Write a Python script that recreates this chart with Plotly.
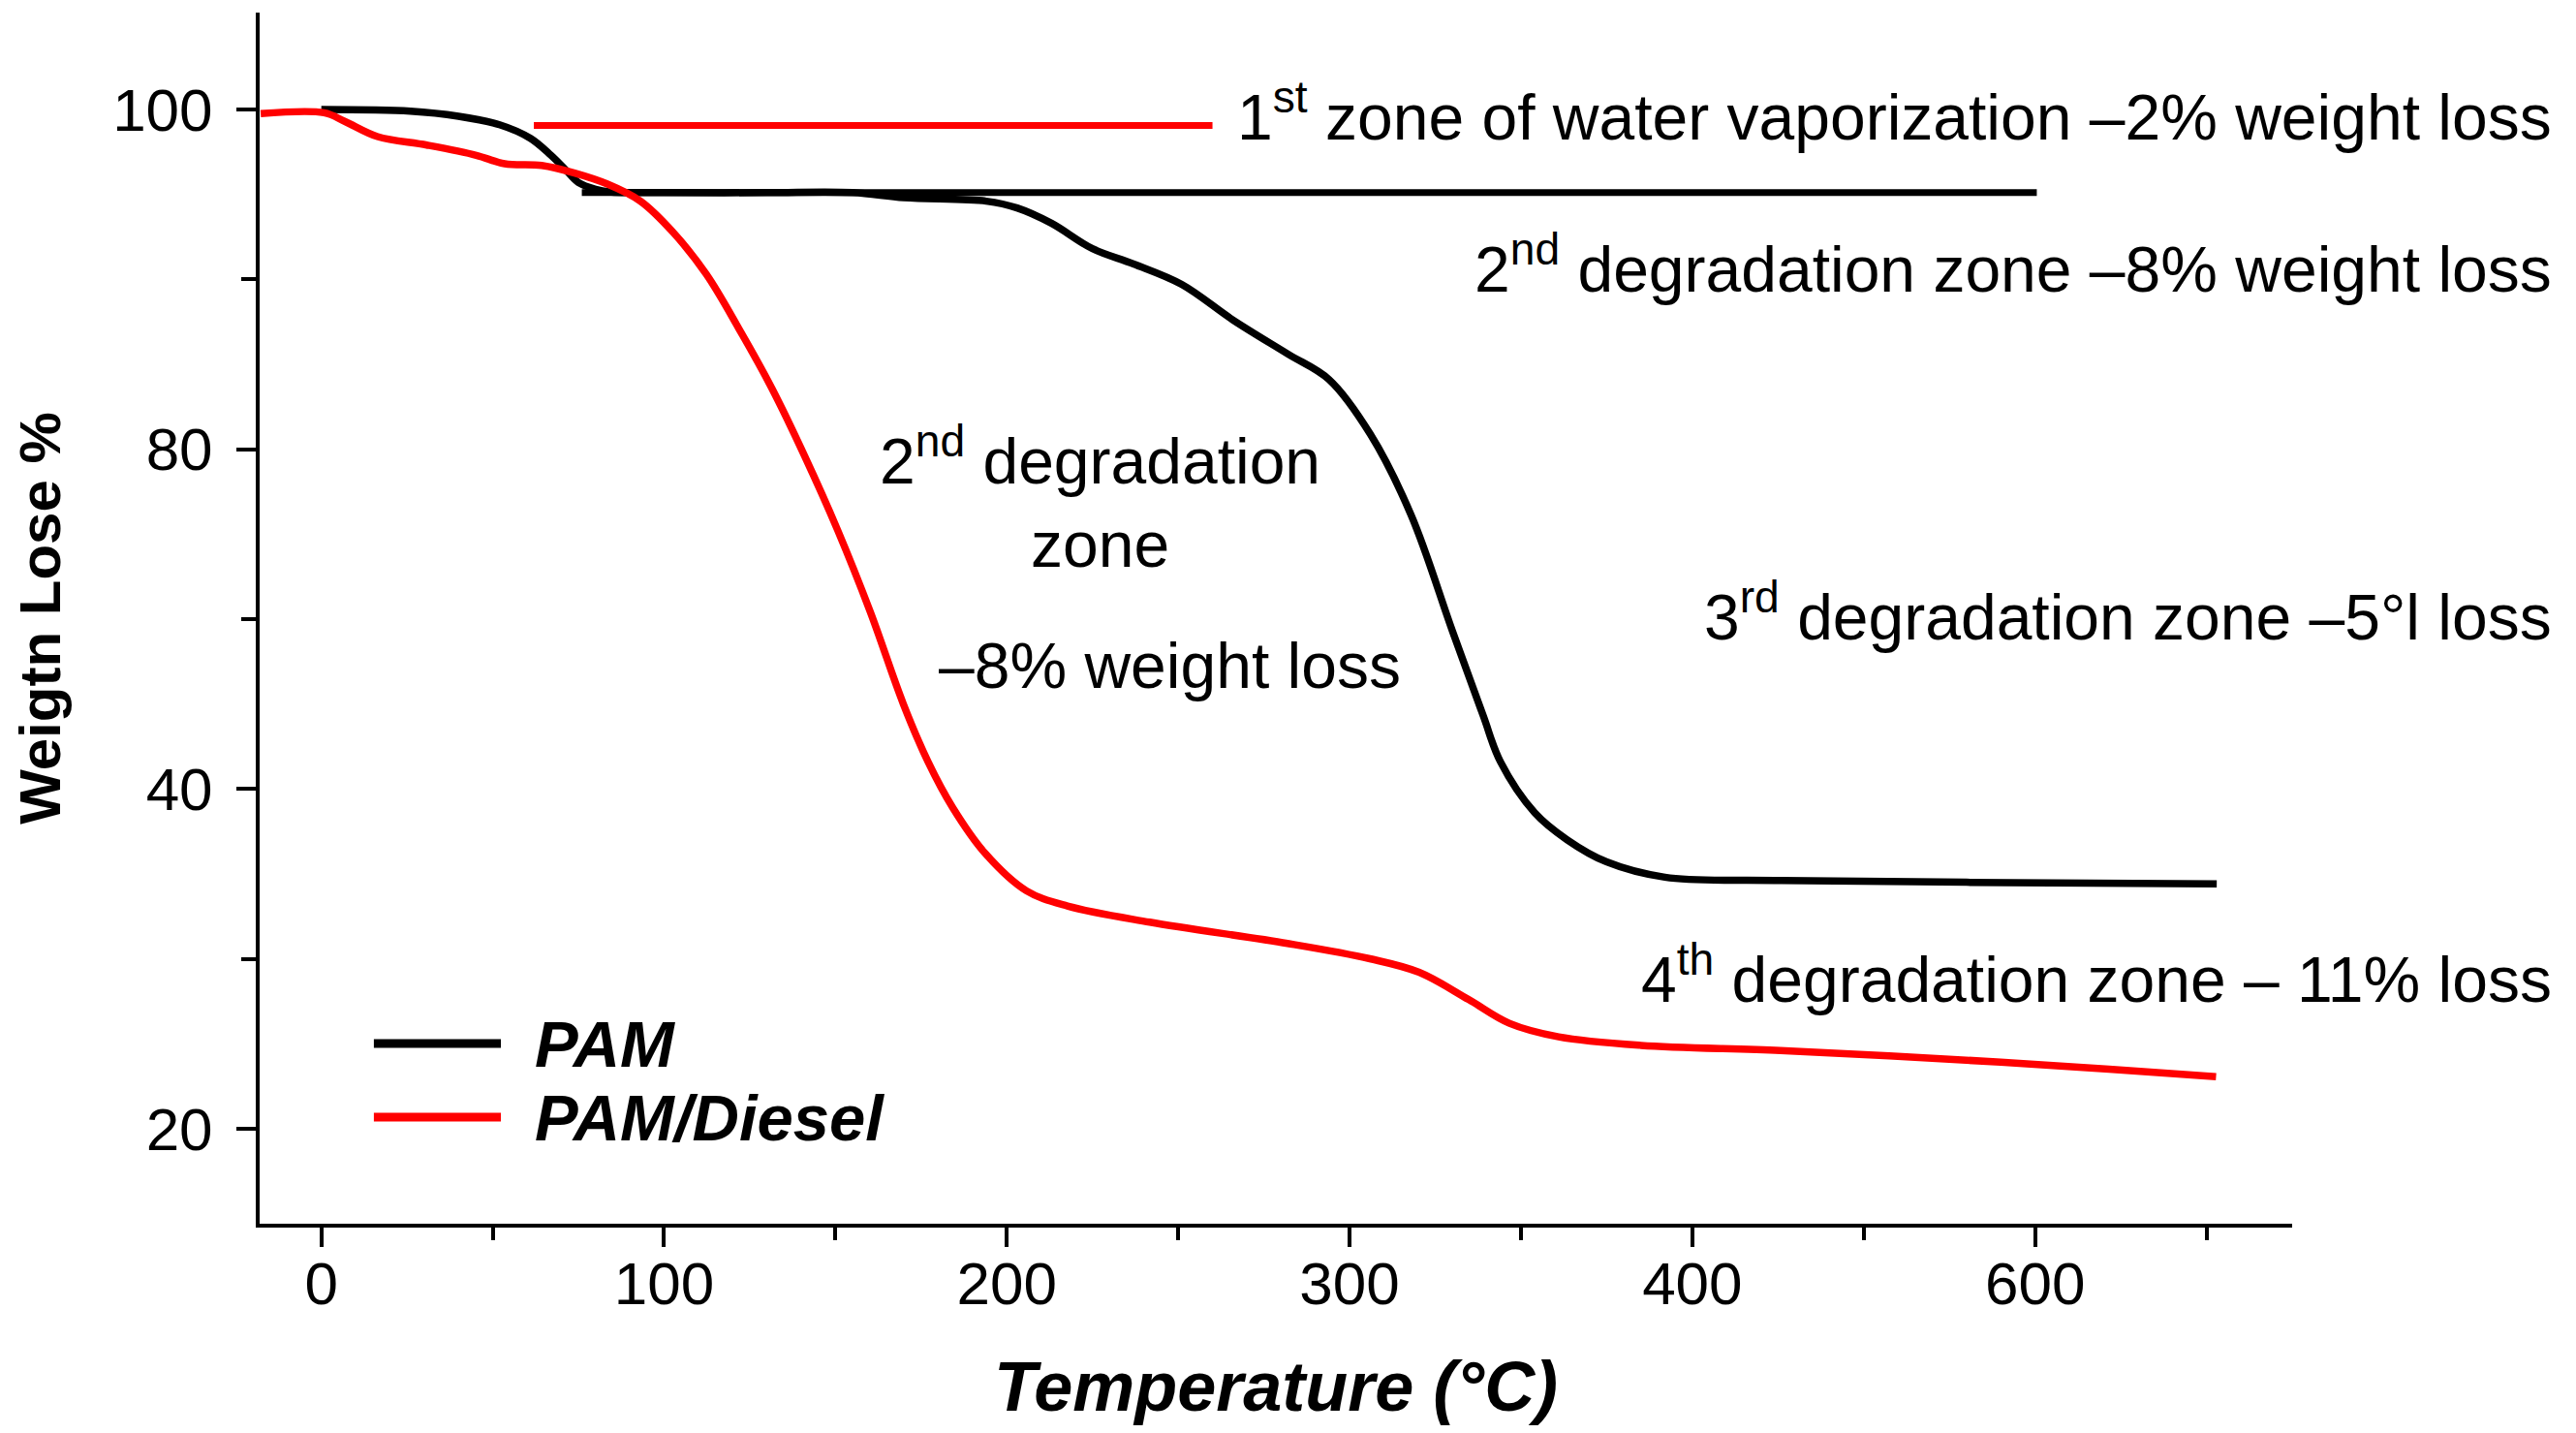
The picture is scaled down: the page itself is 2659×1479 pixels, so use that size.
import plotly.graph_objects as go

# TGA curves (x in plotted axis units, y in plotted axis units)
pam_temp = [0, 26, 40, 52, 61, 67, 71.5, 75, 80, 84, 100, 130, 155, 170, 194, 203,
            213, 225, 237, 251, 266, 282, 294, 306, 318, 330, 339, 344, 354, 363.5,
            375, 392, 426, 480, 553]
pam_weight = [100.0, 99.9, 99.6, 99.1, 98.3, 97.3, 96.4, 95.7, 95.3, 95.15, 95.1, 95.1,
              95.1, 94.8, 94.6, 94.2, 93.3, 91.8, 90.9, 89.7, 87.6, 85.6, 84.1, 80.9,
              76.1, 69.3, 64.3, 61.6, 58.6, 57.0, 55.7, 54.8, 54.6, 54.5, 54.4]

diesel_temp = [-17.7, 0.8, 6.8, 16.4, 30.8, 45.2, 53.5, 64.3, 73.9, 83.5, 93.1, 102.7,
               112.3, 121.8, 131.4, 141.0, 150.6, 160.2, 169.8, 177.0, 184.2, 193.7,
               205.7, 217.7, 241.7, 281.9, 305.9, 320.3, 334.7, 346.6, 361.0, 385.0,
               425.7, 473.7, 521.6, 552.8]
diesel_weight = [99.75, 99.8, 99.3, 98.4, 97.9, 97.3, 96.8, 96.7, 96.25, 95.6, 94.6,
                 92.75, 90.3, 87.1, 83.6, 79.6, 75.25, 70.4, 65.0, 61.6, 58.9, 56.2,
                 54.0, 53.1, 52.15, 50.9, 50.0, 49.2, 47.6, 46.2, 45.4, 44.9, 44.6,
                 44.1, 43.5, 43.05]

# zone marker lines
water_zone_x = [62, 260]
water_zone_y = [99.05, 99.05]
second_zone_x = [76, 500.5]
second_zone_y = [95.1, 95.1]

# ticks (the original axes are not evenly labelled)
x_tick_vals = [0, 100, 200, 300, 400, 500]
x_tick_text = ['0', '100', '200', '300', '400', '600']
y_tick_vals = [100, 80, 60, 40]
y_tick_text = ['100', '80', '40', '20']

FONT = 'Liberation Sans, Arial, sans-serif'

fig = go.Figure()
fig.add_trace(go.Scatter(x=water_zone_x, y=water_zone_y, mode='lines',
                         line=dict(color='#ff0000', width=7), showlegend=False,
                         hoverinfo='skip'))
fig.add_trace(go.Scatter(x=second_zone_x, y=second_zone_y, mode='lines',
                         line=dict(color='black', width=7), showlegend=False,
                         hoverinfo='skip'))
fig.add_trace(go.Scatter(x=pam_temp, y=pam_weight, mode='lines', name='PAM',
                         line=dict(color='black', width=7.5, shape='spline'),
                         showlegend=False))
fig.add_trace(go.Scatter(x=diesel_temp, y=diesel_weight, mode='lines',
                         name='PAM/Diesel',
                         line=dict(color='#ff0000', width=7.5, shape='spline'),
                         showlegend=False))

# hand drawn legend, like the original
legend_items = [('PAM', 'black', 0.1488), ('PAM/Diesel', '#ff0000', 0.088)]
for label, col, yy in legend_items:
    fig.add_shape(type='line', xref='paper', yref='paper', x0=0.0562, x1=0.1187,
                  y0=yy, y1=yy, line=dict(color=col, width=9))
    fig.add_annotation(xref='paper', yref='paper', x=0.1344, y=yy, xanchor='left',
                       yanchor='middle', showarrow=False,
                       text='<b><i>%s</i></b>' % label,
                       font=dict(family=FONT, size=67, color='black'))

notes = [
    ('1<sup>st</sup> zone of water vaporization –2% weight loss', 1.1287, 0.9176, 'right'),
    ('2<sup>nd</sup> degradation zone –8% weight loss', 1.1287, 0.792, 'right'),
    ('2<sup>nd</sup> degradation<br>zone', 0.4137, 0.599, 'center'),
    ('–8% weight loss', 0.3332, 0.4608, 'left'),
    ('3<sup>rd</sup> degradation zone –5°l loss', 1.1287, 0.5048, 'right'),
    ('4<sup>th</sup> degradation zone – 11% loss', 1.1287, 0.2056, 'right'),
]
for txt, xx, yy, anc in notes:
    fig.add_annotation(xref='paper', yref='paper', x=xx, y=yy, xanchor=anc,
                       yanchor='middle', align='center', showarrow=False, text=txt,
                       font=dict(family=FONT, size=66, color='black'))

# page body adds ~8px, so the figure is trimmed by that much
fig.update_layout(
    width=2651, height=1471,
    margin=dict(l=260, r=293, t=5, b=216),
    plot_bgcolor='white', paper_bgcolor='white',
    font=dict(family=FONT, size=60, color='black'),
    xaxis=dict(
        range=[-18, 575], showgrid=False, zeroline=False, automargin=False,
        showline=True, linecolor='black', linewidth=4,
        ticks='outside', ticklen=20, tickwidth=4, tickcolor='black',
        tickvals=x_tick_vals, ticktext=x_tick_text, ticklabelstandoff=-15,
        tickfont=dict(size=62),
        minor=dict(dtick=50, tick0=0, ticks='outside', ticklen=13, tickwidth=4,
                   tickcolor='black'),
        title=dict(text='<b><i>Temperature (°C)</i></b>', font=dict(size=72),
                   standoff=48),
    ),
    yaxis=dict(
        range=[34.4, 105.7], showgrid=False, zeroline=False, automargin=False,
        showline=True, linecolor='black', linewidth=4,
        ticks='outside', ticklen=20, tickwidth=4, tickcolor='black',
        tickvals=y_tick_vals, ticktext=y_tick_text, ticklabelstandoff=12,
        tickfont=dict(size=62),
        minor=dict(dtick=10, tick0=0, ticks='outside', ticklen=15, tickwidth=4,
                   tickcolor='black'),
        title=dict(text='<b>Weigtn Lose %</b>', font=dict(size=60), standoff=40),
    ),
)

fig.write_html('out.html')
